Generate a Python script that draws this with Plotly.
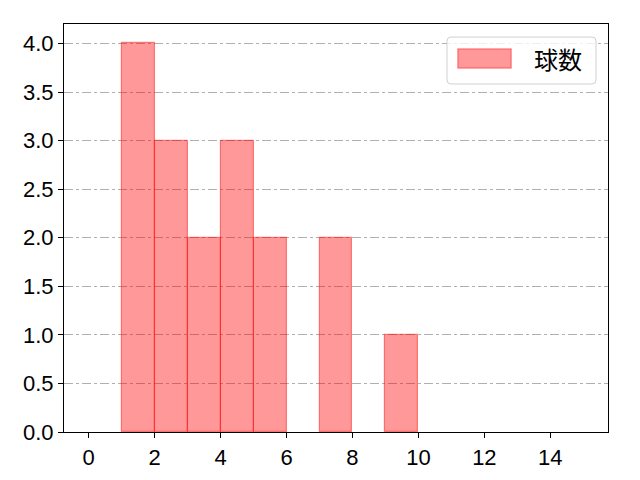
import plotly.graph_objects as go

bin_left = [1, 2, 3, 4, 5, 6, 7, 8, 9]
counts = [4, 3, 2, 3, 2, 0, 2, 0, 1]
series_name = "球数"
x_ticks = [0, 2, 4, 6, 8, 10, 12, 14]
y_ticks = [0.0, 0.5, 1.0, 1.5, 2.0, 2.5, 3.0, 3.5, 4.0]

fill = "rgba(255,0,0,0.4)"
edge = "rgba(255,0,0,0.45)"

fig = go.Figure()
fig.add_trace(go.Bar(
    x=[b + 0.5 for b in bin_left], y=[c if c else None for c in counts],
    width=[1] * len(bin_left),
    name=series_name,
    marker=dict(color=fill, line=dict(color=edge, width=1.2)),
    showlegend=False,
))

# legend drawn as a matplotlib-style box (paper coordinates)
W, H = 544.0, 408.0
def rounded_rect(x0, y0, x1, y1, r=4):
    rx, ry = r / W, r / H
    return (f"M {x0+rx},{y0} L {x1-rx},{y0} Q {x1},{y0} {x1},{y0+ry} "
            f"L {x1},{y1-ry} Q {x1},{y1} {x1-rx},{y1} L {x0+rx},{y1} "
            f"Q {x0},{y1} {x0},{y1-ry} L {x0},{y0+ry} Q {x0},{y0} {x0+rx},{y0} Z")

shapes = [
    dict(type="path", xref="paper", yref="paper",
         path=rounded_rect(0.704, 0.853, 0.978, 0.968),
         fillcolor="rgba(255,255,255,0.8)", line=dict(color="#d0d0d0", width=1)),
    dict(type="rect", xref="paper", yref="paper", x0=0.724, x1=0.822, y0=0.892, y1=0.939,
         fillcolor=fill, line=dict(color=edge, width=1.2)),
]
annotations = [
    dict(xref="paper", yref="paper", x=0.908, y=0.915, text=series_name, showarrow=False,
         xanchor="center", yanchor="middle",
         font=dict(family="Noto Sans CJK JP", size=24, color="black")),
]

font = "Liberation Sans, Noto Sans CJK JP"
fig.update_layout(
    width=640, height=480,
    margin=dict(l=56, r=40, t=16, b=56),
    plot_bgcolor="white", paper_bgcolor="white",
    font=dict(family=font, size=22, color="black"),
    bargap=0,
    showlegend=False,
    shapes=shapes,
    annotations=annotations,
    xaxis=dict(range=[-0.75, 15.75], tickvals=x_ticks, ticktext=[str(v) for v in x_ticks],
               showgrid=False, zeroline=False, showline=True, linecolor="black", linewidth=1.2,
               mirror=True, ticks="outside", ticklen=5, tickcolor="black"),
    yaxis=dict(range=[0, 4.2], tickvals=y_ticks, ticktext=[f"{v:.1f}" for v in y_ticks],
               showgrid=True, gridcolor="#b0b0b0", griddash="dashdot", gridwidth=1,
               zeroline=False, showline=True, linecolor="black", linewidth=1.2,
               mirror=True, ticks="outside", ticklen=5, tickcolor="black"),
)
fig.write_html("out.html")
